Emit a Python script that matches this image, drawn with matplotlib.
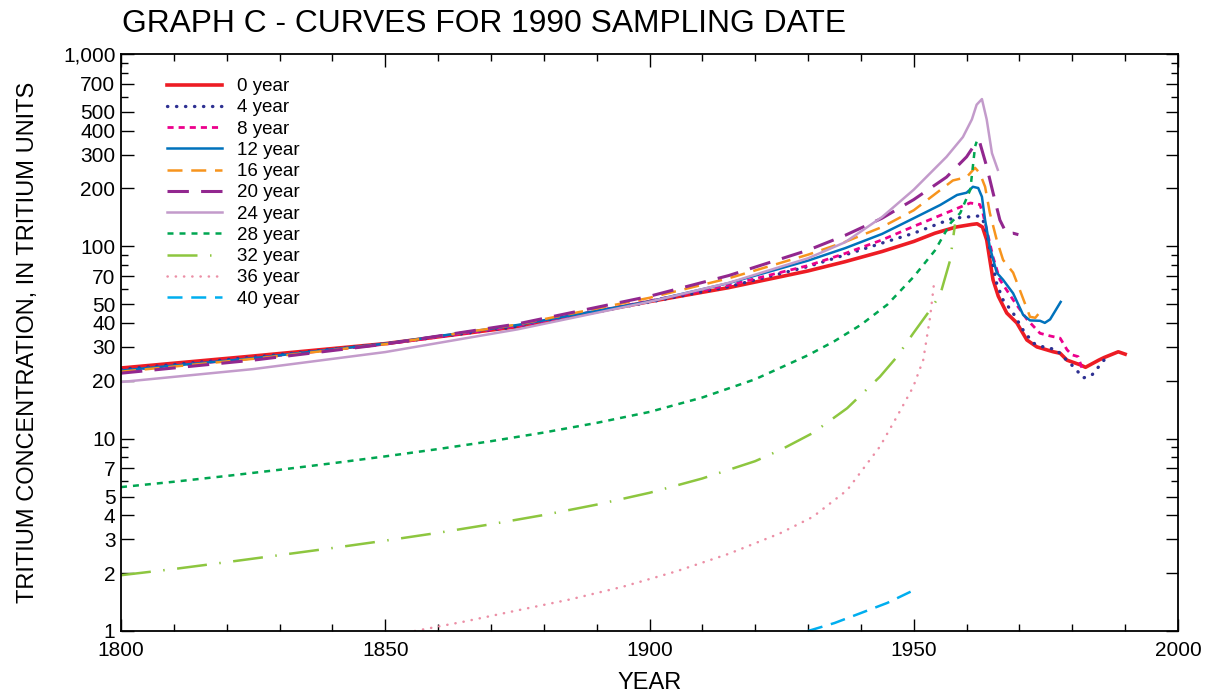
import matplotlib
matplotlib.use("Agg")
import matplotlib.pyplot as plt
from matplotlib.ticker import FixedLocator, NullFormatter

plt.rcParams['font.family'] = ['Liberation Sans', 'DejaVu Sans']

# Tritium concentration curves (tritium units) for a 1990 sampling date,
# one curve per residence time.
early = [1800, 1825, 1850, 1875, 1900, 1915, 1930, 1937, 1944]

yr_0 = early + [1950, 1954, 1958, 1961, 1962, 1963, 1963.8, 1964.4, 1965, 1966,
                1967.6, 1969.5, 1971.4, 1973.3, 1976.4, 1977.7, 1979, 1981.5,
                1982.5, 1985, 1986, 1988.7, 1990]
tu_0 = [23.3, 26.9, 31.2, 38.2, 51.6, 61, 74.5, 83.2, 94,
        106, 117, 126, 130, 131, 126, 108, 85, 67, 55,
        45, 40, 32.6, 30, 28.3, 27.8, 25.6, 24.2,
        23.5, 25.6, 26.4, 28.3, 27.5]

yr_4 = early + [1950, 1957.4, 1960, 1962.5, 1963.1, 1963.8, 1964.8, 1965.7, 1966.9,
                1968.8, 1970.7, 1972.6, 1974.5, 1977, 1978.3, 1980.2, 1982.1,
                1983.7, 1986]
tu_4 = [22.9, 26.5, 31.1, 38.3, 51.3, 61.7, 78.5, 90.2, 104,
        117, 140, 142, 144, 137, 117, 85, 64, 52.7,
        45, 36.7, 31.4, 30, 29, 26.6, 23.7, 20.7,
        21.4, 25.6]

yr_8 = early + [1950, 1958.8, 1960.7, 1962.5, 1963.1, 1963.8, 1965, 1966.3, 1968.8,
                1971.4, 1973.9, 1975.8, 1977.7, 1979, 1979.9, 1981.1, 1981.8]
tu_8 = [22.6, 26.2, 31.0, 38.5, 52, 62.8, 79.4, 91.8, 108,
        127, 160, 168, 165, 148, 122, 88, 67, 52.7,
        41.8, 35.3, 34.2, 33.3, 29, 27.3, 26.7, 23.4]

yr_12 = early + [1950, 1955, 1958.2, 1960, 1961.2, 1962.2, 1962.9, 1963.5, 1964.4,
                 1965.7, 1966.9, 1968.8, 1970.7, 1972, 1973.9, 1974.8, 1975.8, 1977.8]
tu_12 = [22.6, 26.2, 31.2, 39.0, 51.7, 64.4, 84.3, 97.8, 116,
         140, 164, 185, 190, 204, 201, 181, 137, 99,
         73, 67, 57, 44, 41.2, 41, 40, 41.7, 51.4]

yr_16 = early + [1950, 1957.4, 1960, 1961.6, 1962.5, 1963.5, 1964.4, 1965.7, 1966.9,
                 1968.8, 1970.1, 1972, 1973, 1973.9]
tu_16 = [22.3, 26.0, 31.0, 39.2, 54, 68.2, 90.5, 105.4, 126,
         154, 220, 229, 256, 240, 204, 149, 108, 85,
         73, 59, 43, 42.5, 45.6]

yr_20 = early + [1950, 1956.2, 1960, 1961.9, 1962.5, 1963.8, 1965, 1966.3, 1967.6,
                 1968.8, 1969.8]
tu_20 = [21.9, 25.6, 31.0, 39.5, 55, 70.5, 95.5, 114, 140,
         175, 229, 292, 350, 346, 260, 190, 137, 116,
         117, 115]

yr_24 = early + [1950, 1956.2, 1959.3, 1961, 1961.9, 1962.9, 1963.8, 1964.8, 1965.9]
tu_24 = [19.7, 23.0, 28.2, 37, 51.5, 64.6, 86.7, 105, 142,
         197, 292, 370, 457, 545, 583, 457, 305, 250]

yr_28 = [1800, 1810, 1820, 1830, 1840, 1850, 1860, 1870, 1880, 1890, 1900, 1910,
         1920, 1930, 1935, 1940, 1945, 1950, 1954, 1957, 1958.8, 1960.7, 1961.6, 1961.9]
tu_28 = [5.6, 5.97, 6.4, 6.89, 7.45, 8.09, 8.83, 9.7, 10.76, 12.08, 13.77, 16.37,
         20.37, 27.16, 32.14, 39.08, 49.77, 69.5, 95.1, 132.4, 149, 197, 330, 350]

yr_32 = [1800, 1810, 1820, 1830, 1840, 1850, 1860, 1870, 1880, 1890, 1900, 1910,
         1920, 1925, 1930.9, 1937.4, 1943.6, 1946.8, 1949.9, 1953.1, 1955, 1956.9, 1957.8]
tu_32 = [1.95, 2.10, 2.28, 2.48, 2.70, 2.95, 3.24, 3.59, 4.01, 4.54, 5.23, 6.21,
         7.64, 8.8, 10.7, 14.4, 21, 26.6, 35.3, 46.7, 56, 85, 130]

yr_36 = [1855.6, 1865, 1875, 1885, 1895, 1905, 1915, 1924.7, 1930.9, 1937.4, 1943.6,
         1946.8, 1949.9, 1951.8, 1953.1, 1953.8]
tu_36 = [1.0, 1.12, 1.28, 1.46, 1.70, 2.04, 2.52, 3.22, 3.92, 5.4, 9.1,
         13.0, 18.6, 25.7, 43, 63]

yr_40 = [1930, 1935, 1940, 1945, 1950]
tu_40 = [1.0, 1.1, 1.24, 1.4, 1.63]

labels = ['0 year', '4 year', '8 year', '12 year', '16 year', '20 year',
          '24 year', '28 year', '32 year', '36 year', '40 year']

series = [
    (yr_0, tu_0, dict(color='#ed1c24', lw=2.6, ls='-')),
    (yr_4, tu_4, dict(color='#2e3192', lw=2.4, ls=(0, (0.1, 2.6)), dash_capstyle='round')),
    (yr_8, tu_8, dict(color='#ec008c', lw=2.0, ls=(0, (2.2, 1.8)))),
    (yr_12, tu_12, dict(color='#0072bc', lw=1.8, ls='-')),
    (yr_16, tu_16, dict(color='#f7941d', lw=1.8, ls=(0, (6, 3.5)))),
    (yr_20, tu_20, dict(color='#92278f', lw=2.2, ls=(0, (7, 4)))),
    (yr_24, tu_24, dict(color='#c39bcb', lw=1.8, ls='-')),
    (yr_28, tu_28, dict(color='#00a651', lw=1.8, ls=(0, (2.4, 2.4)))),
    (yr_32, tu_32, dict(color='#8dc63f', lw=1.8, ls=(0, (12, 5, 0.6, 5)))),
    (yr_36, tu_36, dict(color='#ec8fa6', lw=1.8, ls=(0, (0.1, 3.2)), dash_capstyle='round')),
    (yr_40, tu_40, dict(color='#00aeef', lw=1.8, ls=(0, (6, 3.5)))),
]

fig = plt.figure(figsize=(12.07, 6.96), dpi=100)
ax = fig.add_axes([121 / 1207, 1 - 631 / 696, 1057 / 1207, 577 / 696])

for (x, y, st), lab in zip(series, labels):
    ax.plot(x, y, label=lab, **st)

ax.set_yscale('log')
ax.set_xlim(1800, 2000)
ax.set_ylim(1, 1000)

ax.set_xticks([1800, 1850, 1900, 1950, 2000])
ax.set_xticks(range(1810, 2000, 10), minor=True)
ax.set_xticklabels(['1800', '1850', '1900', '1950', '2000'])

ymaj = [1, 2, 3, 4, 5, 7, 10, 20, 30, 40, 50, 70, 100, 200, 300, 400, 500, 700, 1000]
ylab = ['1', '2', '3', '4', '5', '7', '10', '20', '30', '40', '50', '70',
        '100', '200', '300', '400', '500', '700', '1,000']
ymin = [6, 8, 9, 60, 80, 90, 600, 800, 900]
ax.yaxis.set_major_locator(FixedLocator(ymaj))
ax.yaxis.set_minor_locator(FixedLocator(ymin))
ax.set_yticklabels(ylab)
ax.yaxis.set_minor_formatter(NullFormatter())

ax.tick_params(which='both', direction='in', top=True, right=True, labelsize=15,
               width=1.0, colors='black')
ax.tick_params(which='major', length=9)
ax.tick_params(which='minor', length=5)
ax.tick_params(axis='x', pad=7)
ax.tick_params(axis='y', pad=4)
for sp in ax.spines.values():
    sp.set_linewidth(1.3)

ax.set_xlabel('YEAR', fontsize=17, labelpad=9)
ax.set_ylabel('TRITIUM CONCENTRATION, IN TRITIUM UNITS', fontsize=17, labelpad=17)
fig.text(122 / 1207, 1 - 24 / 696, 'GRAPH C - CURVES FOR 1990 SAMPLING DATE',
         fontsize=22.9, va='center', ha='left')

ax.legend(loc='upper left', bbox_to_anchor=(0.0362, 0.9715), frameon=False,
          fontsize=13.5, handlelength=2.95, handletextpad=0.8, labelspacing=0.22,
          borderaxespad=0)

fig.savefig('out.png', dpi=100)
